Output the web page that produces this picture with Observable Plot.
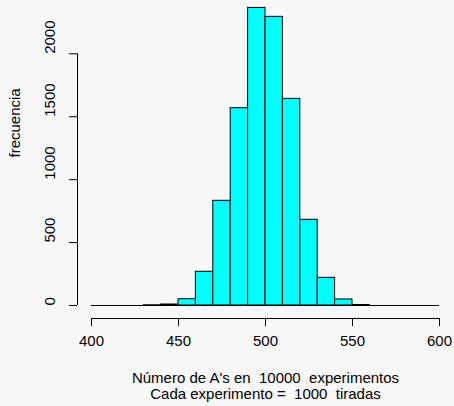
<!DOCTYPE html>
<html><head><meta charset="utf-8">
<script src="https://cdn.jsdelivr.net/npm/d3@7"></script>
<script src="https://cdn.jsdelivr.net/npm/@observablehq/plot@0.6"></script>
<style>
html,body{margin:0;padding:0;background:#f8f8f8;}
svg text{white-space:pre;}
</style></head><body><div id="chart"></div>
<script>
const binStarts = [400,410,420,430,440,450,460,470,480,490,500,510,520,530,540,550,560,570,580,590];
const binWidth = 10;
const counts = [0,0,0,2,8,50,268,832,1568,2365,2294,1642,681,220,48,4,0,0,0,0];
const xTicks = [400,450,500,550,600];
const yTicks = [0,500,1000,1500,2000];
const yLabel = "frecuencia";
const xLabelLines = ["Número de A's en  10000  experimentos", "Cada experimento =  1000  tiradas"];

const bins = binStarts.map((s,i)=>({x1:s, x2:s+binWidth, count:counts[i]}));
const font = "'Liberation Sans', Arial, Helvetica, sans-serif";
const fs = 15;

const chart = Plot.plot({
  width:454, height:406,
  marginLeft:91, marginRight:15, marginTop:3, marginBottom:101,
  style:{background:"#f8f8f8", fontFamily:font, fontSize:fs+"px", color:"#000", overflow:"visible"},
  x:{domain:[xTicks[0], xTicks[xTicks.length-1]]},
  y:{domain:[0,2400]},
  marks:[
    Plot.ruleY([0], {x1: binStarts[0], x2: binStarts[binStarts.length-1]+binWidth, stroke:"#000", strokeWidth:1}),
    Plot.rectY(bins, {x1:"x1", x2:"x2", y:"count", fill:"#00ffff", stroke:"#000", strokeWidth:1}),
    // y axis
    Plot.ruleX([xTicks[0]], {y1: yTicks[0], y2: yTicks[yTicks.length-1], dx:-14, stroke:"#000"}),
    Plot.axisY(yTicks, {tickSize:8, dx:-14, tickFormat:()=>"", label:null, stroke:"#000"}),
    Plot.text(yTicks, {y:d=>d, text:d=>String(d), frameAnchor:"left", rotate:-90, dx:-41, fill:"#000", fontSize:fs}),
    Plot.text([yLabel], {text:d=>d, frameAnchor:"left", rotate:-90, dx:-76, dy:3, fill:"#000", fontSize:fs}),
    // x axis
    Plot.ruleY([yTicks[0]], {x1: xTicks[0], x2: xTicks[xTicks.length-1], dy:13, stroke:"#000"}),
    Plot.axisX(xTicks, {tickSize:8, dy:13, tickFormat:()=>"", label:null, stroke:"#000"}),
    Plot.text(xTicks, {x:d=>d, text:d=>String(d), frameAnchor:"bottom", dy:40, fill:"#000", fontSize:fs}),
    Plot.text([xLabelLines[0]], {text:d=>d, frameAnchor:"bottom", dy:77, fill:"#000", fontSize:fs}),
    Plot.text([xLabelLines[1]], {text:d=>d, frameAnchor:"bottom", dy:93, fill:"#000", fontSize:fs})
  ]
});
document.getElementById("chart").appendChild(chart);
</script></body></html>
